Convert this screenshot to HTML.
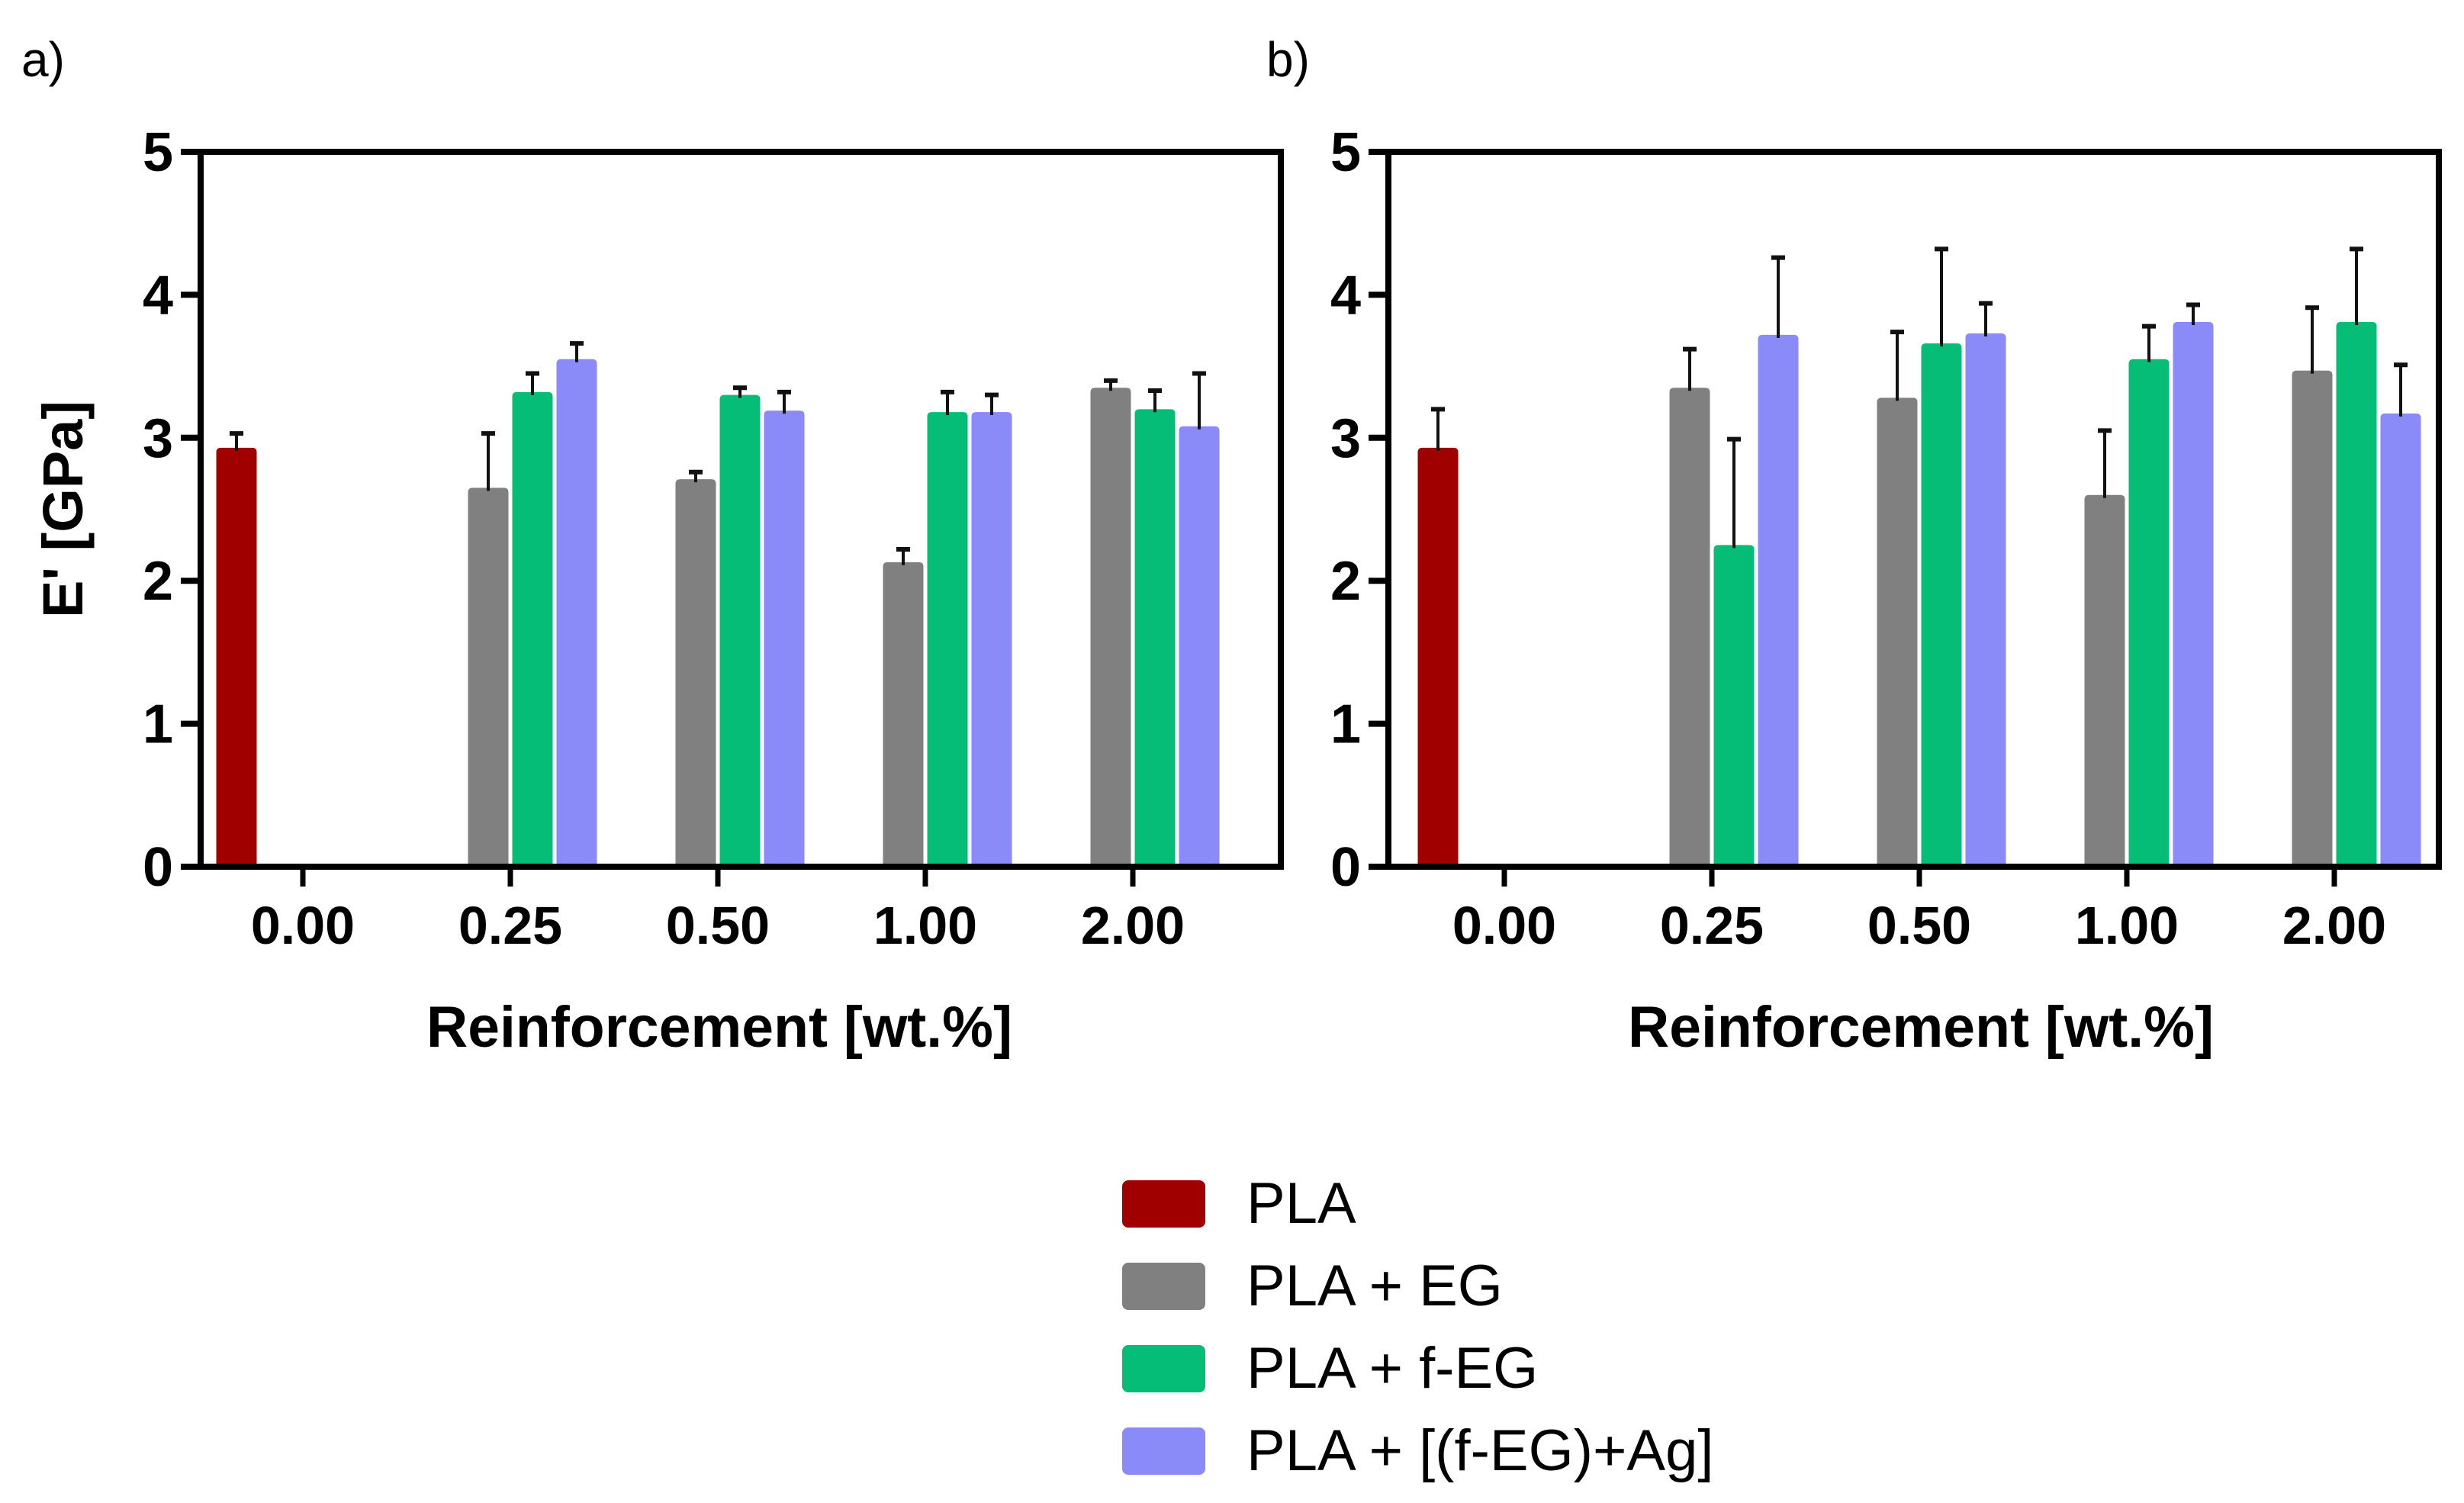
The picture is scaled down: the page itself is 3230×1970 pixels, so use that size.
<!DOCTYPE html>
<html><head><meta charset="utf-8"><style>
html,body{margin:0;padding:0;background:#fff;}
svg{display:block;font-family:"Liberation Sans",Arial,sans-serif;}
</style></head><body>
<svg id="fig" width="3230" height="1970" viewBox="0 0 3230 1970" xmlns="http://www.w3.org/2000/svg">
<rect x="0" y="0" width="3230" height="1970" fill="#fff"/>
<text x="28" y="100" font-size="64">a)</text>
<text x="1660" y="100" font-size="64">b)</text>
<g id="legend"></g>
</svg>
<script>
const categories = ["0.00","0.25","0.50","1.00","2.00"];
const seriesNames = ["PLA","PLA + EG","PLA + f-EG","PLA + [(f-EG)+Ag]"];
const seriesColors = ["#a00000","#808080","#05bd77","#8a8af8"];
const yTicks = [0,1,2,3,4,5];
// panel a values (null = no bar)
const aPLA   = [2.93,null,null,null,null];
const aPLAerr= [3.03,null,null,null,null];
const aEG    = [null,2.65,2.71,2.13,3.35];
const aEGerr = [null,3.03,2.76,2.22,3.40];
const aFEG   = [null,3.32,3.30,3.18,3.20];
const aFEGerr= [null,3.45,3.35,3.32,3.33];
const aAG    = [null,3.55,3.19,3.18,3.08];
const aAGerr = [null,3.66,3.32,3.30,3.45];
// panel b values
const bPLA   = [2.93,null,null,null,null];
const bPLAerr= [3.20,null,null,null,null];
const bEG    = [null,3.35,3.28,2.60,3.47];
const bEGerr = [null,3.62,3.74,3.05,3.91];
const bFEG   = [null,2.25,3.66,3.55,3.81];
const bFEGerr= [null,2.99,4.32,3.78,4.32];
const bAG    = [null,3.72,3.73,3.81,3.17];
const bAGerr = [null,4.26,3.94,3.93,3.51];

const NS="http://www.w3.org/2000/svg";
const svg=document.getElementById('fig');
function mk(tag,attrs,parent){const e=document.createElementNS(NS,tag);for(const k in attrs)e.setAttribute(k,attrs[k]);(parent||svg).appendChild(e);return e;}

function panel(id,left,right,firstTick,vals,errs,showTitle,titleX){
  const top=199,bottom=1136,ymax=5;
  const y=v=>bottom-(v/ymax)*(bottom-top);
  const pitchCat=272, slot=58, bw=53;
  const x=i=>firstTick+i*pitchCat;
  const g=mk('g',{});
  
  
  for(let s=0;s<4;s++){
    for(let i=0;i<categories.length;i++){
      const v=vals[s][i]; if(v===null) continue;
      const cx=x(i)+(s-1.5)*slot;
      const r=mk('path',{d:`M${cx-bw/2},${y(0)} V${y(v)+6} Q${cx-bw/2},${y(v)} ${cx-bw/2+6},${y(v)} H${cx+bw/2-6} Q${cx+bw/2},${y(v)} ${cx+bw/2},${y(v)+6} V${y(0)} Z`,fill:seriesColors[s]},g);
      
      
      const e=errs[s][i];
      const eb=mk('g',{stroke:'#111','stroke-width':4},g);
      
      
      mk('line',{x1:cx,x2:cx,y1:y(v)+4,y2:y(e)},eb);
      mk('line',{x1:cx-9,x2:cx+9,y1:y(e),y2:y(e),'stroke-width':6},eb);
    }
  }
  const fr=mk('rect',{x:left,y:top,width:right-left,height:bottom-top,fill:'none',stroke:'#000','stroke-width':8},g);
  
  
  for(const t of yTicks){
    mk('line',{x1:left-26,x2:left,y1:y(t),y2:y(t),stroke:'#000','stroke-width':8},g);
    const tx=mk('text',{x:left-36,y:y(t)+25,'font-size':72,'font-weight':'bold','text-anchor':'end'},g);
    tx.textContent=t;
    
    
  }
  for(let i=0;i<categories.length;i++){
    mk('line',{x1:x(i),x2:x(i),y1:bottom,y2:bottom+26,stroke:'#000','stroke-width':7},g);
    const tx=mk('text',{x:x(i),y:1237,'font-size':70,'font-weight':'bold','text-anchor':'middle'},g);
    tx.textContent=categories[i];
    
    
  }
  const xt=mk('text',{x:titleX,y:1372,'font-size':76,'font-weight':'bold','text-anchor':'middle',textLength:768,lengthAdjust:'spacingAndGlyphs'},g);
  xt.textContent='Reinforcement [wt.%]';
  
  
  if(showTitle){
    const yt=mk('text',{x:0,y:0,'font-size':74,'font-weight':'bold','text-anchor':'middle',transform:`translate(108,${(top+bottom)/2}) rotate(-90)`},g);
    yt.textContent="E' [GPa]";
    
    
  }
}
panel('panel-a-chart',263,1679,397,[aPLA,aEG,aFEG,aAG],[aPLAerr,aEGerr,aFEGerr,aAGerr],true,943);
panel('panel-b-chart',1820,3197,1972,[bPLA,bEG,bFEG,bAG],[bPLAerr,bEGerr,bFEGerr,bAGerr],false,2518);

const lg=document.getElementById('legend');
for(let s=0;s<4;s++){
  const yy=1547+s*108;
  const it=mk('g',{},lg);
  
  
  mk('rect',{x:1471,y:yy,width:109,height:62,rx:8,fill:seriesColors[s]},it);
  const t=mk('text',{x:1634,y:yy+56,'font-size':76},it);
  t.textContent=seriesNames[s];
}
</script>
</body></html>
